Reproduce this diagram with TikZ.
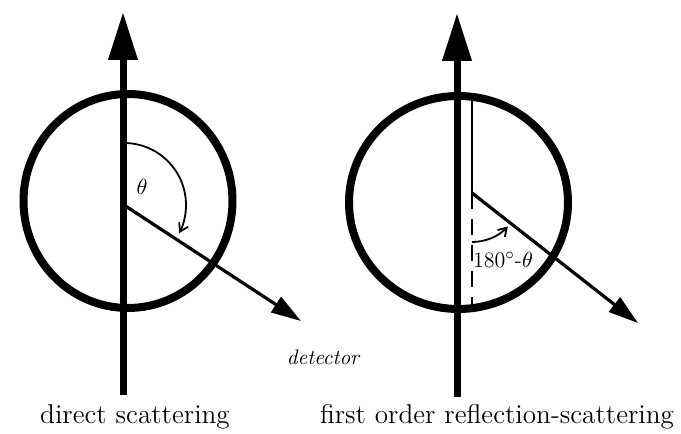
\documentclass[tikz,border=0pt]{standalone}
\usetikzlibrary{arrows.meta}
\begin{document}
\begin{tikzpicture}[x=0.5pt, y=0.5pt,
  beam/.style={line width=3.5pt, -{Triangle[length=24pt, width=14pt]}},
  ring/.style={line width=4pt},
  ray/.style={line width=1.6pt, -{Triangle[length=15pt, width=9pt]}},
  angarc/.style={line width=0.9pt, -{Straight Barb[length=4pt, width=5pt]}},
  caption/.style={font=\fontsize{13.6}{16}\selectfont, inner sep=0pt},
  anglabel/.style={font=\fontsize{11}{13}\selectfont, inner sep=0pt}]

  \useasboundingbox (0,0) rectangle (681,434);

  % direct scattering
  \coordinate (srcA) at (123,39);
  \coordinate (tipA) at (123,422);
  \coordinate (ctrA) at (128,233);
  \coordinate (oA)   at (124,229);
  \coordinate (detA) at (301,113);

  \draw[beam] (srcA) -- (tipA);
  \draw[ring] (ctrA) ellipse[x radius=104.5, y radius=107];
  \draw[ray] (oA) -- (detA);
  \draw[angarc] (oA) ++(90:62) arc[start angle=90, end angle=-27, radius=62];
  \node[anglabel] (thA) at (142,247) {$\theta$};

  % first order reflection-scattering
  \coordinate (srcB) at (457,37);
  \coordinate (tipB) at (457,421);
  \coordinate (ctrB) at (458.5,231.5);
  \coordinate (topB) at (472,334);
  \coordinate (oB)   at (472,241);
  \coordinate (detB) at (638,111);
  \coordinate (dashB) at (472,129);

  \draw[beam] (srcB) -- (tipB);
  \draw[ring] (ctrB) ellipse[x radius=109.5, y radius=106.5];
  \draw[line width=1.2pt] (topB) -- (oB);
  \draw[ray] (oB) -- (detB);
  \draw[line width=1pt, dash pattern=on 8pt off 5pt] (oB) -- (dashB);
  \draw[angarc] (oB) ++(-90:49) arc[start angle=-90, end angle=-43, radius=49];
  \node[anglabel] (thB) at (503,174) {180$^\circ$-$\theta$};

  \node[font=\fontsize{10.5}{12}\itshape, inner sep=0pt] (det) at (323,77) {detector};

  \node[caption] (capA) at (135,17) {direct scattering};
  \node[caption] (capB) at (497,17) {first order reflection-scattering};

\end{tikzpicture}
\end{document}
